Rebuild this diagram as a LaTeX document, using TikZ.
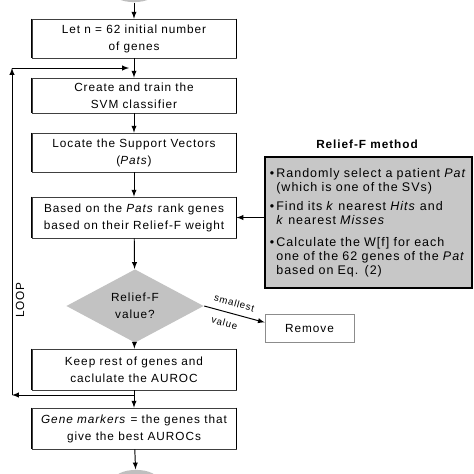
\documentclass[tikz,border=0pt]{standalone}
\usepackage{fontspec}
\setmainfont{Liberation Sans}[LetterSpace=8]
\usetikzlibrary{shapes.geometric}
\tikzset{>=latex}

\begin{document}
\begin{tikzpicture}[x=0.72pt, y=-0.72pt, line width=0.7pt, font=\fontsize{8.5}{12.2}\selectfont]
\tikzset{stepbox/.style={draw=black!75, line width=0.6pt, minimum width=147pt, minimum height=29.5pt, align=center, inner sep=0pt}}
\tikzset{decision/.style={diamond, fill=black!24, minimum width=99pt, minimum height=35pt, inner sep=0pt, align=center}}
\tikzset{terminal/.style={ellipse, fill=black!25, minimum width=33pt, minimum height=16pt}}
\useasboundingbox (0,0) rectangle (474,474);

    \node[terminal] (start) at (134,-9) {};
    \node[stepbox, minimum height=28pt] (init) at (134,38.5) {Let n = 62 initial number\\of genes};
    \node[stepbox, minimum height=25.2pt] (train) at (134,95.5) {Create and train the\\SVM classifier};
    \node[stepbox, minimum height=28pt] (locate) at (134,152.5) {Locate the Support Vectors\\(\textit{Pats})};
    \node[stepbox] (rank) at (134,217.5) {Based on the \textit{Pats} rank genes\\based on their Relief-F weight};

    \node[decision] (test) at (135,306) {Relief-F\\value?};
    \node[draw=black!45, line width=0.4pt, minimum width=64pt, minimum height=20pt] (remove) at (309.5,328) {Remove};

    \node[stepbox] (keep) at (134,369.5) {Keep rest of genes and\\caclulate the AUROC};
    \node[stepbox] (markers) at (134,428.5) {\textit{Gene markers} = the genes that\\give the best AUROCs};
    \node[terminal] (stop) at (136,481) {};

    \node[font=\bfseries\fontsize{8.5}{10}\selectfont] (relieftitle) at (367,144) {Relief-F method};
    \node[draw, line width=1.2pt, fill=black!22, minimum width=149pt, minimum height=94pt, text width=142pt, align=left, inner sep=0pt, font=\fontsize{9}{10}\selectfont] (relief) at (368.5,222.5) {%
      \textbullet\,Randomly select a patient \textit{Pat}\\
      \hphantom{\textbullet\,}(which is one of the SVs)\\[4pt]
      \textbullet\,Find its \textit{k} nearest \textit{Hits} and\\
      \hphantom{\textbullet\,}\textit{k} nearest \textit{Misses}\\[6pt]
      \textbullet\,Calculate the W[f] for each\\
      \hphantom{\textbullet\,}one of the 62 genes of the \textit{Pat}\\
      \hphantom{\textbullet\,}based on Eq. (2)};

    \node[rotate=90] (looplabel) at (20,300) {LOOP};

    \draw[->] (start) -- (init);
    \draw[->] (init) -- (train);
    \draw[->] (train) -- (locate);
    \draw[->] (locate) -- (rank);
    \draw[->] (rank) -- (test);
    \draw[->] (test) -- (keep);
    \draw[->] (keep) -- (markers);
    \draw[->] (markers) -- (stop);
    \draw[->] (relief.west |- rank.east) -- (rank.east);
    \draw[->] (test.east) -- ([yshift=4pt]remove.west)
        node[pos=0.45, sloped, above=1.5pt, font=\fontsize{7}{8}\selectfont] {smallest}
        node[pos=0.38, sloped, below=1.5pt, font=\fontsize{7}{8}\selectfont] {value};
% % % % % % % % % % % % % % % % % % %
    \coordinate (loopA) at (134,395);
    \coordinate (loopB) at (12,395);
    \coordinate (loopC) at (12,68);
    \coordinate (loopD) at (129,68);

    \draw[->] (loopA) -- (loopB);
    \draw[->] (loopB) -- (loopC);
    \draw[->] (loopC) -- (loopD);

    \foreach \b in {init,train,locate,rank,keep,markers}
        \draw[line width=1.2pt] (\b.north west) -- (\b.south west) (\b.north east) -- (\b.south east);
\end{tikzpicture}
\end{document}
